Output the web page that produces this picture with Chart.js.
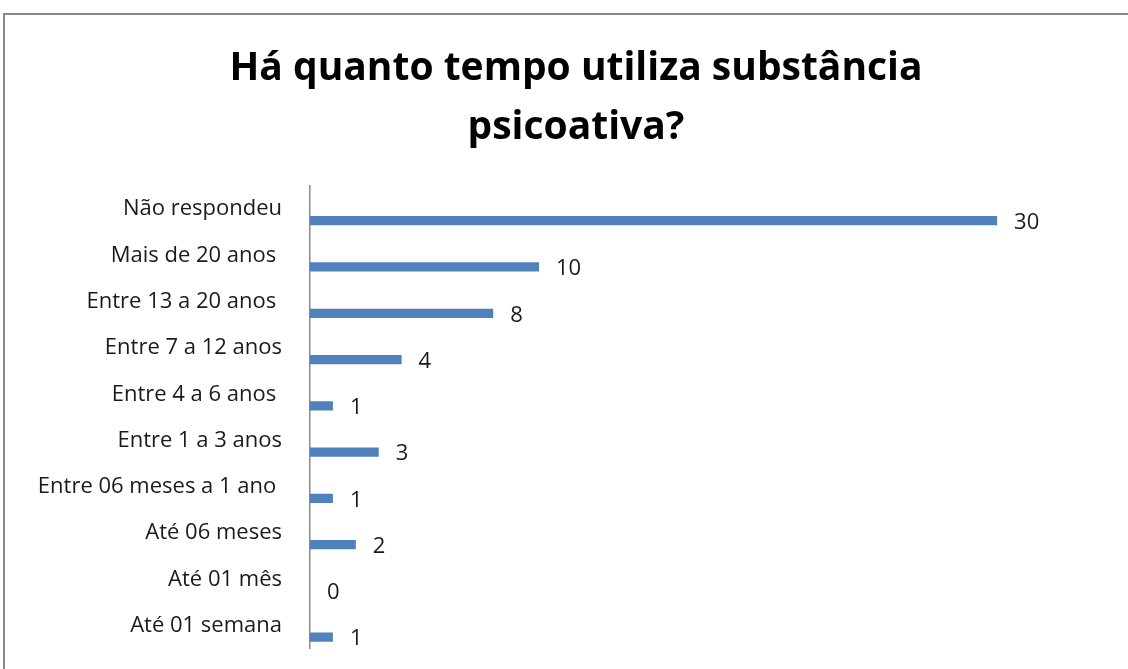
<!DOCTYPE html>
<html>
<head>
<meta charset="utf-8">
<script src="https://cdn.jsdelivr.net/npm/chart.js@4"></script>
<style>
  html, body { margin: 0; padding: 0; background: #fff; overflow: hidden; width: 1128px; height: 669px; position: relative; }
  #frame { position: absolute; left: 3px; top: 13px; width: 1200px; height: 700px; border-top: 2px solid #8a8a8a; border-left: 2px solid #8a8a8a; }
  #c { position: absolute; left: 6px; top: 16px; }
</style>
</head>
<body>
<div id="frame"></div>
<canvas id="c" width="1140" height="674" style="width:1140px;height:674px"></canvas>
<script>
const titleLines = ["Há quanto tempo utiliza substância", "psicoativa?"];
const categories = [
  "Não respondeu",
  "Mais de 20 anos ",
  "Entre 13 a 20 anos ",
  "Entre 7 a 12 anos",
  "Entre 4 a 6 anos ",
  "Entre 1 a 3 anos",
  "Entre 06 meses a 1 ano ",
  "Até 06 meses",
  "Até 01 mês",
  "Até 01 semana"
];
const emptySeries = [null, null, null, null, null, null, null, null, null, null];
const values = [30, 10, 8, 4, 1, 3, 1, 2, 0, 1];
const xMin = 0;
const xMax = 36.5;

const FONT = "'Open Sans', Lato, sans-serif";

const valueLabels = {
  id: 'valueLabels',
  afterDatasetsDraw(chart) {
    const ctx = chart.ctx;
    const meta = chart.getDatasetMeta(1);
    ctx.save();
    ctx.font = "22px " + FONT;
    ctx.fillStyle = "#1a1a1a";
    ctx.textAlign = "left";
    ctx.textBaseline = "middle";
    meta.data.forEach((bar, i) => {
      const v = chart.data.datasets[1].data[i];
      if (v === null || v === undefined) return;
      ctx.fillText(String(v), bar.x + 17, bar.y + 2);
    });
    ctx.restore();
  }
};

new Chart(document.getElementById('c'), {
  type: 'bar',
  data: {
    labels: categories,
    datasets: [
      { label: 'vazio', data: emptySeries, backgroundColor: '#4F81BD' },
      { label: 'Série', data: values, backgroundColor: '#4F81BD', borderWidth: 0 }
    ]
  },
  options: {
    indexAxis: 'y',
    responsive: false,
    animation: false,
    devicePixelRatio: 1,
    categoryPercentage: 1.0,
    barPercentage: 0.4,
    layout: { padding: { left: 0, right: 0, top: 0, bottom: 0 } },
    plugins: {
      legend: { display: false },
      tooltip: { enabled: false },
      title: {
        display: true,
        text: titleLines,
        color: '#000',
        font: { family: FONT, size: 39, weight: 'bold', lineHeight: 1.5 },
        padding: { top: 24, bottom: 29 }
      }
    },
    scales: {
      x: { display: false, min: xMin, max: xMax },
      y: {
        grid: { display: false, drawTicks: false },
        border: { display: true, color: '#8a8a8a', width: 1.5 },
        ticks: {
          color: '#1a1a1a',
          font: { family: FONT, size: 22 },
          padding: 28,
          autoSkip: false
        },
        afterFit(scale) { scale.width = 304; }
      }
    }
  },
  plugins: [valueLabels]
});
</script>
</body>
</html>
